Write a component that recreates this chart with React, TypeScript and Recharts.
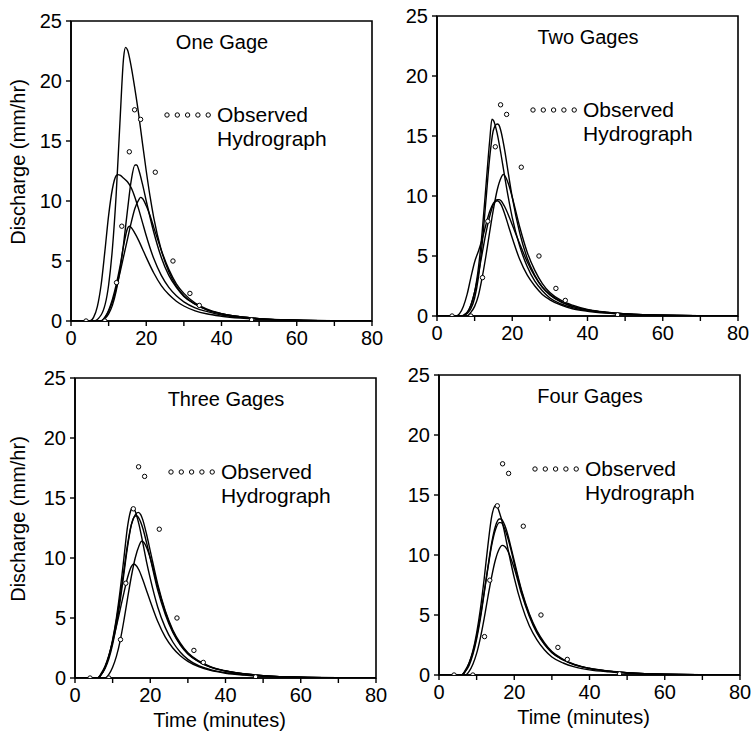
import { ComposedChart, Line, XAxis, YAxis, ReferenceArea, Legend } from "recharts";

const FONT = "'Liberation Sans', Arial, Helvetica, sans-serif";

// axis ticks
const xTicks = [0, 10, 20, 30, 40, 50, 60, 70, 80];
const xTickLabels = [0, 20, 40, 60, 80];
const yTicks = [0, 5, 10, 15, 20, 25];

const panelTitles = ["One Gage", "Two Gages", "Three Gages", "Four Gages"];

// observed hydrograph (same in every panel): [time, discharge]
const observed = [
  [4, 0], [9, 0], [12.1, 3.2], [13.5, 7.9], [15.5, 14.1], [16.9, 17.6], [18.5, 16.8],
  [22.4, 12.4], [27.1, 5.0], [31.6, 2.3], [34.1, 1.3], [48, 0.1],
];

// One Gage
const oneA = [
  [0, 0], [6, 0], [8, 0.5], [10, 3], [11, 6], [12, 10.5], [13, 16.5], [14, 22], [14.5, 22.8], [15, 22.6],
  [16, 21.2], [17, 19.3], [18, 17.2], [19, 14.8], [20, 12.5], [21, 10.4], [22, 8.6], [24, 5.9], [26, 4.1],
  [28, 2.9], [30, 2.1], [33, 1.4], [36, 0.95], [40, 0.6], [45, 0.35], [50, 0.2], [60, 0.07], [70, 0.02], [80, 0],
];
const oneB = [
  [0, 0], [5, 0], [6, 0.3], [7, 1.2], [8, 3], [9, 5.8], [10, 8.8], [11, 11], [12, 12.1], [12.5, 12.2], [13, 12.15],
  [14, 11.9], [15, 11.6], [16, 11.1], [17, 10.3], [18, 9.3], [19, 8.2], [20, 7.1], [22, 5.2], [24, 3.8], [26, 2.8],
  [28, 2.1], [30, 1.6], [33, 1.1], [36, 0.8], [40, 0.5], [45, 0.3], [50, 0.18], [60, 0.06], [80, 0],
];
const oneC = [
  [0, 0], [8, 0], [9, 0.2], [10, 0.6], [11, 1.3], [12, 2.5], [13, 4.2], [14, 6.5], [15, 9.2], [16, 11.7], [17, 13],
  [17.5, 13], [18, 12.6], [19, 11.4], [20, 10], [22, 7.4], [24, 5.3], [26, 3.8], [28, 2.8], [30, 2.05], [33, 1.4],
  [36, 0.95], [40, 0.6], [45, 0.35], [50, 0.2], [60, 0.07], [80, 0],
];
const oneD = [
  [0, 0], [8, 0], [9, 0.3], [10, 0.8], [11, 1.6], [12, 2.7], [13, 4], [14, 5.4], [15, 6.8], [16, 8.2], [17, 9.4],
  [18, 10.1], [18.5, 10.3], [19, 10.2], [20, 9.6], [21, 8.8], [22, 7.8], [24, 5.9], [26, 4.3], [28, 3.1], [30, 2.3],
  [33, 1.5], [36, 1.0], [40, 0.62], [45, 0.36], [50, 0.2], [60, 0.07], [80, 0],
];
const oneE = [
  [0, 0], [8, 0], [9, 0.3], [10, 0.9], [11, 1.8], [12, 3], [13, 4.5], [14, 6.3], [15, 7.7], [15.5, 7.9], [16, 7.8],
  [17, 7.3], [18, 6.7], [19, 6], [20, 5.3], [22, 4], [24, 2.95], [26, 2.2], [28, 1.65], [30, 1.25], [33, 0.85],
  [36, 0.6], [40, 0.4], [45, 0.24], [50, 0.14], [60, 0.05], [80, 0],
];

// Two Gages
const twoA = [
  [0, 0], [6, 0], [8, 0.3], [9, 0.9], [10, 2], [11, 4], [12, 7], [13, 10.8], [14, 14.6], [14.6, 16.4], [15, 16.3],
  [16, 15.2], [17, 13.5], [18, 11.6], [19, 9.8], [20, 8.2], [22, 5.8], [24, 4.1], [26, 2.9], [28, 2.1], [30, 1.5],
  [33, 1.0], [36, 0.7], [40, 0.45], [45, 0.27], [50, 0.16], [60, 0.05], [80, 0],
];
const twoB = [
  [0, 0], [7, 0], [8, 0.2], [9, 0.6], [10, 1.5], [11, 3.2], [12, 6], [13, 9.6], [14, 13.2], [15, 15.5], [16, 16],
  [16.5, 15.9], [17, 15.4], [18, 13.8], [19, 11.8], [20, 9.9], [22, 6.9], [24, 4.8], [26, 3.4], [28, 2.4], [30, 1.75],
  [33, 1.15], [36, 0.8], [40, 0.5], [45, 0.3], [50, 0.18], [60, 0.06], [80, 0],
];
const twoC = [
  [0, 0], [8, 0], [9, 0.3], [10, 0.8], [11, 1.7], [12, 3.2], [13, 5], [14, 7], [15, 8.9], [16, 10.5], [17, 11.5],
  [17.6, 11.8], [18, 11.7], [19, 11], [20, 9.9], [22, 7.4], [24, 5.3], [26, 3.8], [28, 2.7], [30, 1.95], [33, 1.3],
  [36, 0.9], [40, 0.55], [45, 0.32], [50, 0.19], [60, 0.06], [80, 0],
];
const twoD = [
  [0, 0], [5, 0], [6, 0.2], [7, 0.8], [8, 1.8], [9, 3.2], [10, 4.5], [11, 5.4], [12, 6.4], [13, 7.6], [14, 8.7],
  [15, 9.4], [16, 9.7], [16.5, 9.7], [17, 9.6], [18, 9.1], [19, 8.4], [20, 7.6], [22, 6], [24, 4.5], [26, 3.3],
  [28, 2.4], [30, 1.8], [33, 1.2], [36, 0.8], [40, 0.5], [45, 0.3], [50, 0.18], [60, 0.06], [80, 0],
];
const twoE = [
  [0, 0], [7, 0], [8, 0.3], [9, 0.9], [10, 2], [11, 3.5], [12, 5.2], [13, 6.9], [14, 8.3], [15, 9.3], [16, 9.6],
  [17, 9.3], [18, 8.5], [19, 7.5], [20, 6.5], [22, 4.7], [24, 3.4], [26, 2.5], [28, 1.8], [30, 1.35], [33, 0.9],
  [36, 0.6], [40, 0.4], [45, 0.24], [50, 0.14], [60, 0.05], [80, 0],
];

// Three Gages
const threeA = [
  [0, 0], [6, 0], [7, 0.3], [8, 0.9], [9, 1.8], [10, 3.2], [11, 5], [12, 7.3], [13, 10], [14, 12.7], [15, 14.1],
  [15.3, 14.2], [16, 13.9], [17, 12.8], [18, 11.3], [19, 9.7], [20, 8.3], [22, 5.9], [24, 4.2], [26, 3], [28, 2.15],
  [30, 1.55], [33, 1.0], [36, 0.7], [40, 0.45], [45, 0.27], [50, 0.16], [60, 0.05], [80, 0],
];
const threeB = [
  [0, 0], [6, 0], [7, 0.3], [8, 0.8], [9, 1.6], [10, 2.8], [11, 4.4], [12, 6.4], [13, 8.7], [14, 11], [15, 12.8],
  [16, 13.6], [16.8, 13.8], [17.5, 13.6], [18, 13.2], [19, 12], [20, 10.6], [22, 7.8], [24, 5.6], [26, 4], [28, 2.9],
  [30, 2.1], [33, 1.4], [36, 0.95], [40, 0.6], [45, 0.35], [50, 0.2], [60, 0.07], [80, 0],
];
const threeC = [
  [0, 0], [6, 0], [7, 0.4], [8, 1], [9, 1.9], [10, 3.1], [11, 4.8], [12, 6.8], [13, 9], [14, 11.2], [15, 12.8],
  [16, 13.5], [16.5, 13.5], [17, 13.3], [18, 12.5], [19, 11.3], [20, 10], [22, 7.3], [24, 5.3], [26, 3.8], [28, 2.75],
  [30, 2], [33, 1.35], [36, 0.9], [40, 0.58], [45, 0.34], [50, 0.2], [60, 0.07], [80, 0],
];
const threeD = [
  [0, 0], [8, 0], [9, 0.3], [10, 0.9], [11, 1.8], [12, 3.1], [13, 4.8], [14, 6.7], [15, 8.5], [16, 10], [17, 11],
  [17.7, 11.4], [18.3, 11.3], [19, 10.9], [20, 10], [22, 7.6], [24, 5.5], [26, 3.9], [28, 2.8], [30, 2.05], [33, 1.35],
  [36, 0.9], [40, 0.58], [45, 0.34], [50, 0.2], [60, 0.07], [80, 0],
];
const threeE = [
  [0, 0], [6, 0], [7, 0.3], [8, 0.9], [9, 1.8], [10, 3], [11, 4.3], [12, 5.7], [13, 7.1], [14, 8.4], [15, 9.3],
  [15.6, 9.5], [16, 9.45], [17, 9], [18, 8.2], [19, 7.3], [20, 6.4], [22, 4.7], [24, 3.4], [26, 2.5], [28, 1.85],
  [30, 1.38], [33, 0.92], [36, 0.63], [40, 0.4], [45, 0.24], [50, 0.14], [60, 0.05], [80, 0],
];

// Four Gages
const fourA = [
  [0, 0], [6, 0], [7, 0.3], [8, 1], [9, 2], [10, 3.5], [11, 5.5], [12, 8], [13, 10.8], [14, 13.2], [15, 14.1],
  [15.5, 14], [16, 13.6], [17, 12.5], [18, 11], [19, 9.5], [20, 8.1], [22, 5.8], [24, 4.1], [26, 2.95], [28, 2.1],
  [30, 1.5], [33, 1], [36, 0.68], [40, 0.43], [45, 0.26], [50, 0.15], [60, 0.05], [80, 0],
];
const fourB = [
  [0, 0], [6, 0], [7, 0.3], [8, 0.8], [9, 1.7], [10, 3], [11, 4.7], [12, 6.8], [13, 9], [14, 11], [15, 12.4],
  [16, 13], [16.5, 13], [17, 12.8], [18, 12], [19, 10.8], [20, 9.5], [22, 7], [24, 5.1], [26, 3.7], [28, 2.7],
  [30, 1.95], [33, 1.3], [36, 0.88], [40, 0.56], [45, 0.33], [50, 0.19], [60, 0.06], [80, 0],
];
const fourC = [
  [0, 0], [6, 0], [7, 0.4], [8, 1], [9, 1.9], [10, 3.2], [11, 4.9], [12, 6.9], [13, 8.9], [14, 10.8], [15, 12.1],
  [16, 12.7], [16.5, 12.7], [17, 12.5], [18, 11.7], [19, 10.6], [20, 9.3], [22, 6.9], [24, 5], [26, 3.6], [28, 2.6],
  [30, 1.9], [33, 1.27], [36, 0.86], [40, 0.55], [45, 0.32], [50, 0.19], [60, 0.06], [80, 0],
];
const fourD = [
  [0, 0], [7, 0], [8, 0.3], [9, 0.9], [10, 1.8], [11, 3.1], [12, 4.7], [13, 6.5], [14, 8.2], [15, 9.6], [16, 10.5],
  [16.8, 10.8], [17.5, 10.7], [18, 10.5], [19, 9.8], [20, 8.9], [22, 6.7], [24, 4.9], [26, 3.5], [28, 2.55],
  [30, 1.85], [33, 1.25], [36, 0.84], [40, 0.54], [45, 0.32], [50, 0.19], [60, 0.06], [80, 0],
];

const toPts = (arr: number[][]) => arr.map(([t, q]) => ({ t, q }));

// chart geometry: plot area is 301 x 300 at (75, 10) inside each chart
const PL = 75;
const PT = 10;
const PW = 301;
const PH = 300;
const PR = 14;
const CW = PL + PW + PR;
const CH = 370;

const panels = [
  { title: panelTitles[0], curves: [oneA, oneB, oneC, oneD, oneE], left: -4, top: 11, yLabel: true, xLabel: false },
  { title: panelTitles[1], curves: [twoA, twoB, twoC, twoD, twoE], left: 362, top: 6, yLabel: false, xLabel: false },
  { title: panelTitles[2], curves: [threeA, threeB, threeC, threeD, threeE], left: 0, top: 368, yLabel: true, xLabel: true },
  { title: panelTitles[3], curves: [fourA, fourB, fourC, fourD], left: 364, top: 365, yLabel: false, xLabel: true },
];

const XTick = (props: any) => {
  const { x, y, payload } = props;
  if (!xTickLabels.includes(payload.value)) return <g />;
  return (
    <text x={x} y={y} dy={17} textAnchor="middle" fontSize={20} fontFamily={FONT} fill="#000">
      {payload.value}
    </text>
  );
};

const YTick = (props: any) => {
  const { x, y, payload } = props;
  return (
    <text x={x - 2} y={y} dy={7} textAnchor="end" fontSize={20} fontFamily={FONT} fill="#000">
      {payload.value}
    </text>
  );
};

const Overlay = ({ title }: { title: string }) => (
  <svg width={PW} height={PH} style={{ display: "block" }}>
    <text x={151} y={21} textAnchor="middle" dominantBaseline="central" fontSize={20} fontFamily={FONT} fill="#000">
      {title}
    </text>
    {[0, 1, 2, 3, 4].map((i) => (
      <circle key={i} cx={96 + i * 10.3} cy={94} r={2.2} fill="#fff" stroke="#000" strokeWidth={1} />
    ))}
    <text x={146} y={93} dominantBaseline="central" fontSize={21} fontFamily={FONT} fill="#000">
      Observed
    </text>
    <text x={146} y={117} dominantBaseline="central" fontSize={21} fontFamily={FONT} fill="#000">
      Hydrograph
    </text>
  </svg>
);

function Panel({ title, curves, left, top, yLabel, xLabel }: (typeof panels)[number]) {
  const yLabelX = 18 - left;
  const yLabelY = PT + PH / 2 - 9;
  return (
    <div style={{ position: "absolute", left, top }}>
      <ComposedChart width={CW} height={CH} margin={{ top: PT, right: PR, bottom: 0, left: 0 }}>
        <XAxis
          dataKey="t"
          type="number"
          domain={[0, 80]}
          ticks={xTicks}
          interval={0}
          height={CH - PT - PH}
          tick={<XTick />}
          tickSize={5}
          tickLine={{ stroke: "#000", strokeWidth: 1.4 }}
          axisLine={{ stroke: "#000", strokeWidth: 1.6 }}
          allowDataOverflow
          label={
            xLabel
              ? () => (
                  <text
                    x={PL + PW / 2 - 6}
                    y={PT + PH + 42}
                    textAnchor="middle"
                    dominantBaseline="central"
                    fontSize={20}
                    fontFamily={FONT}
                    fill="#000"
                  >
                    Time (minutes)
                  </text>
                )
              : undefined
          }
        />
        <YAxis
          type="number"
          domain={[0, 25]}
          ticks={yTicks}
          interval={0}
          width={PL}
          tick={<YTick />}
          tickSize={5}
          tickLine={{ stroke: "#000", strokeWidth: 1.4 }}
          axisLine={{ stroke: "#000", strokeWidth: 1.6 }}
          allowDataOverflow
          label={
            yLabel
              ? () => (
                  <text
                    x={yLabelX}
                    y={yLabelY}
                    transform={`rotate(-90 ${yLabelX} ${yLabelY})`}
                    textAnchor="middle"
                    dominantBaseline="central"
                    fontSize={20}
                    fontFamily={FONT}
                    fill="#000"
                  >
                    Discharge (mm/hr)
                  </text>
                )
              : undefined
          }
        />
        <ReferenceArea x1={0} x2={80} y1={0} y2={25} fill="none" stroke="#000" strokeWidth={1.6} />
        {curves.map((c, i) => (
          <Line
            key={i}
            data={toPts(c)}
            dataKey="q"
            type="monotone"
            stroke="#000"
            strokeWidth={1.4}
            dot={false}
            activeDot={false}
            isAnimationActive={false}
          />
        ))}
        <Line
          data={toPts(observed)}
          dataKey="q"
          stroke="none"
          dot={{ r: 2.2, fill: "#fff", stroke: "#000", strokeWidth: 1 }}
          activeDot={false}
          isAnimationActive={false}
        />
        <Legend
          layout="vertical"
          align="center"
          verticalAlign="middle"
          wrapperStyle={{ left: PL, top: PT, width: PW, height: PH, pointerEvents: "none" }}
          content={() => <Overlay title={title} />}
        />
      </ComposedChart>
    </div>
  );
}

export default function App() {
  return (
    <div style={{ position: "absolute", left: 0, top: 0, width: 751, height: 737, background: "#fff", overflow: "hidden" }}>
      {panels.map((p) => (
        <Panel key={p.title} {...p} />
      ))}
    </div>
  );
}
